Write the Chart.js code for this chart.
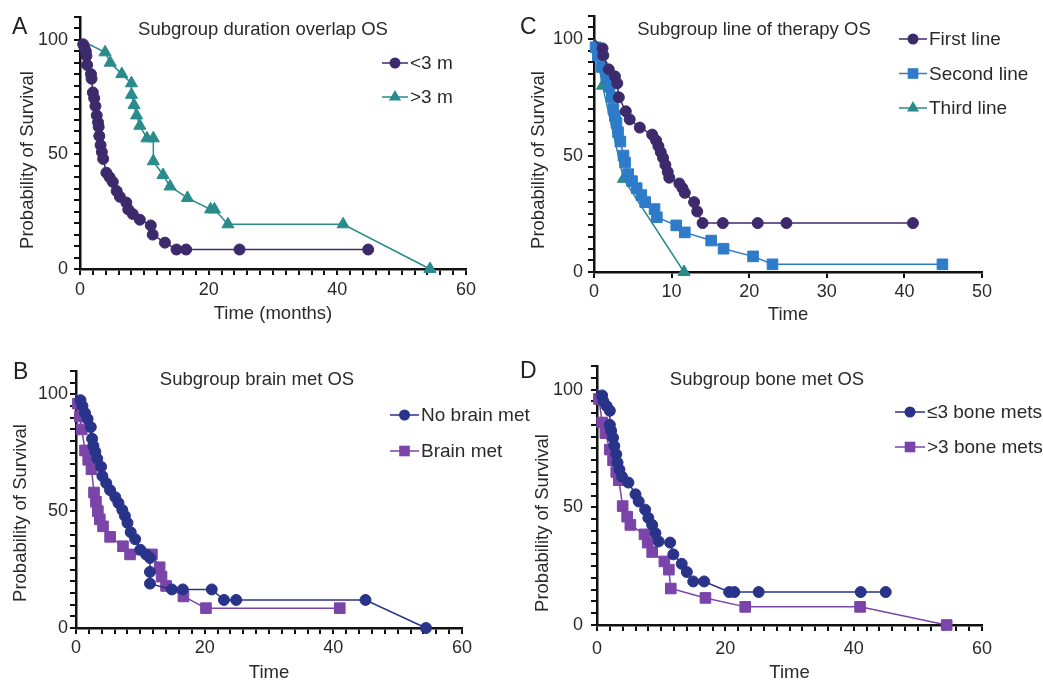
<!DOCTYPE html>
<html>
<head>
<meta charset="utf-8">
<script src="https://cdn.jsdelivr.net/npm/chart.js@4.4.1/dist/chart.umd.min.js"></script>
<style>
  body { margin: 0; background: #fff; }
  #wrap { position: relative; width: 1043px; height: 684px; }
  canvas { position: absolute; }
</style>
</head>
<body>
<div id="wrap">
  <canvas id="chartA" width="520" height="330" style="left:0;top:0"></canvas>
  <canvas id="chartC" width="523" height="330" style="left:520px;top:0"></canvas>
  <canvas id="chartB" width="545" height="344" style="left:0;top:340px"></canvas>
  <canvas id="chartD" width="523" height="344" style="left:520px;top:340px"></canvas>
</div>
<script>
// Panel A - duration overlap
const shortTime = [0, 0.5, 0.7, 0.9, 1.0, 1.1, 1.7, 1.8, 2.0, 2.2, 2.4, 2.6, 2.8, 2.9, 3.0, 3.2, 3.4, 3.6, 4.1, 4.6, 5.1, 5.7, 6.2, 7.2, 7.5, 8.2, 9.3, 11.0, 11.3, 13.2, 15.0, 16.5, 24.8, 44.8];
const shortSurv = [100, 98, 96.5, 95, 93, 89, 85, 83, 77, 74.5, 71, 67, 64, 62, 58, 54, 51, 48, 42, 40, 38, 34, 31.5, 29, 26, 24, 21.5, 19, 15, 11.5, 8.5, 8.5, 8.5, 8.5];
const longTime = [0, 3.9, 4.7, 6.5, 8.0, 8.0, 8.4, 8.8, 9.3, 10.4, 11.4, 11.4, 12.9, 14.0, 16.7, 20.3, 20.9, 23.0, 40.9, 54.4];
const longSurv = [100, 94.5, 90, 85, 81, 76, 71.5, 67, 62.5, 57, 57, 47, 41, 36, 31, 26, 26, 19.5, 19.5, 0];

// Panel C - line of therapy
const firstTime = [0, 1.1, 1.2, 1.9, 2.7, 3.0, 3.2, 4.1, 4.6, 5.9, 7.5, 8.0, 8.3, 8.6, 8.9, 9.2, 9.5, 9.7, 11.0, 11.4, 11.7, 12.9, 13.3, 14.0, 16.6, 21.1, 24.8, 41.1];
const firstSurv = [100, 96, 93, 87, 84, 81, 75, 69, 65.5, 62, 59, 56.5, 54, 51.5, 49, 46, 43, 40.5, 38, 36, 34, 30, 26, 21, 21, 21, 21, 21];
const secondTime = [0, 0.2, 0.5, 1.0, 1.6, 2.0, 2.3, 2.5, 2.7, 2.9, 3.1, 3.4, 3.8, 4.0, 4.4, 4.9, 5.5, 6.1, 6.6, 7.8, 8.1, 10.6, 11.7, 15.1, 16.7, 20.5, 23.0, 44.9];
const secondSurv = [100, 96.5, 93, 88, 84, 79.5, 75, 70, 67, 64, 60, 56, 50, 47, 42, 39, 36, 33, 30, 27, 23.5, 20, 17, 13.5, 10, 6.7, 3.3, 3.3];
const thirdTime = [0, 1.1, 3.8, 11.6];
const thirdSurv = [100, 80, 40, 0];

// Panel B - brain mets
const noBrainTime = [0, 0.7, 1.0, 1.4, 1.8, 2.3, 2.5, 2.7, 3.0, 3.3, 3.9, 4.1, 4.7, 5.3, 6.1, 6.6, 7.2, 7.6, 8.0, 8.5, 9.2, 10.0, 10.9, 11.5, 11.5, 11.5, 14.9, 16.6, 21.1, 23.0, 24.9, 45.0, 54.4];
const noBrainSurv = [100, 97.5, 95, 92, 89.5, 86, 81, 78, 75.5, 72.5, 69, 65, 62, 59, 56, 53.5, 50.5, 48, 45, 41, 38, 33.5, 31.5, 30, 24, 19, 16.5, 16.5, 16.5, 12, 12, 12, 0];
const brainTime = [0, 0.3, 0.6, 0.9, 1.4, 1.9, 2.4, 2.8, 3.1, 3.4, 3.7, 4.2, 5.3, 7.3, 8.4, 11.8, 13.0, 13.3, 14.0, 16.7, 20.2, 41.0];
const brainSurv = [100, 96, 90.5, 85, 76, 72, 68, 58, 54, 50, 46.5, 43.5, 39, 35, 31.5, 31.5, 26, 22, 18, 13.5, 8.5, 8.5];

// Panel D - bone mets
const fewBoneTime = [0, 0.8, 1.0, 1.5, 2.0, 2.0, 2.2, 2.5, 2.7, 3.0, 3.2, 3.5, 3.9, 4.9, 6.0, 6.5, 7.5, 8.0, 8.6, 9.1, 9.6, 11.4, 11.9, 13.2, 14.0, 15.0, 16.7, 20.6, 21.4, 25.2, 41.1, 45.0];
const fewBoneSurv = [100, 97.5, 95, 93, 91, 85, 82.5, 79.5, 76, 72.5, 69, 66, 63, 60.5, 55.5, 52.5, 49, 45.5, 42.5, 39, 35.5, 35, 30, 26, 22.5, 18.5, 18.5, 14, 14, 14, 14, 14];
const manyBoneTime = [0, 0.3, 0.8, 1.3, 2.0, 2.5, 3.0, 3.4, 4.0, 4.7, 5.2, 7.4, 7.9, 8.6, 10.5, 11.2, 11.5, 16.9, 23.1, 41.0, 54.5];
const manyBoneSurv = [100, 96, 86, 81.5, 74.5, 70, 65, 61.5, 50.5, 46, 42.5, 38.5, 35, 31, 27, 23.5, 15.5, 11.5, 7.7, 7.7, 0];

const FONT = "'Liberation Sans', Arial, sans-serif";
const INK = '#2a2a2a';
const PURPLE_DARK = '#3c2a6c';
const TEAL = '#2a8b8d';
const BLUE = '#2e7bc9';
const NAVY = '#283389';
const VIOLET = '#7a44a8';

function series(label, xs, ys, color, style, radius) {
  return {
    label: label,
    data: xs.map((x, i) => ({ x: x, y: ys[i] })),
    borderColor: color,
    backgroundColor: color,
    borderWidth: 1.5,
    tension: 0,
    pointStyle: style,
    pointRadius: xs.map((x, i) => (i === 0 ? 0 : radius)),
    pointHoverRadius: 0,
    pointBorderWidth: 1,
    pointBackgroundColor: color,
    pointBorderColor: color,
    clip: 14,
    markerSize: radius
  };
}

function drawMark(ctx, style, x, y, r, color) {
  ctx.fillStyle = color;
  ctx.beginPath();
  if (style === 'circle') {
    ctx.arc(x, y, r, 0, Math.PI * 2);
  } else if (style === 'rect') {
    const s = r * Math.SQRT1_2;
    ctx.rect(x - s, y - s, 2 * s, 2 * s);
  } else {
    ctx.moveTo(x, y - r);
    ctx.lineTo(x + r * 0.866, y + r * 0.5);
    ctx.lineTo(x - r * 0.866, y + r * 0.5);
    ctx.closePath();
  }
  ctx.fill();
}

// letter, heading, y title and legend drawn at fixed spots like the figure
const decor = {
  id: 'decor',
  afterDraw(chart, args, o) {
    const ctx = chart.ctx;
    ctx.save();
    ctx.fillStyle = '#222';
    ctx.font = '23px ' + FONT;
    ctx.textAlign = 'left';
    ctx.textBaseline = 'alphabetic';
    ctx.fillText(o.letter, o.letterX, o.letterY);

    ctx.fillStyle = INK;
    ctx.font = '18.5px ' + FONT;
    ctx.textAlign = 'center';
    ctx.textBaseline = 'middle';
    ctx.fillText(o.heading, o.headX, o.headY);

    ctx.save();
    ctx.translate(o.yTitleX, o.yTitleY);
    ctx.rotate(-Math.PI / 2);
    ctx.fillText('Probability of Survival', 0, 0);
    ctx.restore();

    ctx.font = o.legendFont + 'px ' + FONT;
    ctx.textAlign = 'left';
    chart.data.datasets.forEach((ds, i) => {
      const y = o.legendY + i * o.legendGap;
      ctx.strokeStyle = ds.borderColor;
      ctx.lineWidth = 1.5;
      ctx.beginPath();
      ctx.moveTo(o.legendX, y);
      ctx.lineTo(o.legendX + o.lineLen, y);
      ctx.stroke();
      drawMark(ctx, ds.pointStyle, o.legendX + o.lineLen / 2, y, ds.markerSize, ds.borderColor);
      ctx.fillStyle = INK;
      ctx.fillText(ds.label, o.legendX + o.lineLen + 2, y + 1);
    });
    ctx.restore();
  }
};

function makeChart(id, datasets, p) {
  return new Chart(document.getElementById(id), {
    type: 'line',
    data: { datasets: datasets },
    options: {
      responsive: false,
      animation: false,
      events: [],
      layout: { padding: { top: p.top, right: p.right, left: 0, bottom: 0 } },
      scales: {
        x: {
          type: 'linear',
          min: 0,
          max: p.xMax,
          afterFit: s => { s.height = p.xHeight; },
          border: { color: '#111', width: 2.5 },
          grid: { drawOnChartArea: false, drawTicks: true, tickLength: 6, lineWidth: 2, color: '#111' },
          ticks: {
            stepSize: p.xStep,
            autoSkip: false,
            maxRotation: 0,
            padding: p.xTickPad,
            color: INK,
            font: { family: FONT, size: 18 },
            callback: v => (v % p.xLabelEvery === 0 ? v : '')
          },
          title: {
            display: true,
            text: p.xTitle,
            color: INK,
            font: { family: FONT, size: 18.5, lineHeight: 1.2 },
            padding: { top: 0, bottom: p.xTitlePad }
          }
        },
        y: {
          type: 'linear',
          min: 0,
          max: 110,
          afterFit: s => { s.width = p.yWidth; },
          border: { color: '#111', width: 2.5 },
          grid: { drawOnChartArea: false, drawTicks: true, tickLength: 6, lineWidth: 2, color: '#111' },
          ticks: {
            stepSize: 5,
            autoSkip: false,
            padding: p.yTickPad,
            color: INK,
            font: { family: FONT, size: 18 },
            callback: v => (v % 50 === 0 ? v : '')
          }
        }
      },
      plugins: {
        legend: { display: false },
        tooltip: { enabled: false },
        decor: p.decor
      }
    },
    plugins: [decor]
  });
}

makeChart('chartA', [
  series('<3 m', shortTime, shortSurv, PURPLE_DARK, 'circle', 5.5),
  series('>3 m', longTime, longSurv, TEAL, 'triangle', 7)
], {
  top: 12, right: 54, xHeight: 61, yWidth: 80,
  xMax: 60, xStep: 2, xLabelEvery: 20, xTitle: 'Time (months)',
  xTickPad: 4, xTitlePad: 5, yTickPad: 6,
  decor: { letter: 'A', letterX: 12, letterY: 34, heading: 'Subgroup duration overlap OS', headX: 263, headY: 30,
           yTitleX: 28, yTitleY: 160,
           legendX: 382, legendY: 63, legendGap: 34, lineLen: 26, legendFont: 19 }
});

makeChart('chartC', [
  series('First line', firstTime, firstSurv, PURPLE_DARK, 'circle', 5.5),
  series('Second line', secondTime, secondSurv, BLUE, 'rect', 7.5),
  series('Third line', thirdTime, thirdSurv, TEAL, 'triangle', 7)
], {
  top: 11, right: 61, xHeight: 58, yWidth: 74,
  xMax: 50, xStep: 10, xLabelEvery: 10, xTitle: 'Time',
  xTickPad: 3, xTitlePad: 4, yTickPad: 5,
  decor: { letter: 'C', letterX: 0, letterY: 34, heading: 'Subgroup line of therapy OS', headX: 234, headY: 30,
           yTitleX: 19, yTitleY: 160,
           legendX: 379, legendY: 39, legendGap: 34.5, lineLen: 28, legendFont: 19 }
});

makeChart('chartB', [
  series('No brain met', noBrainTime, noBrainSurv, NAVY, 'circle', 5.5),
  series('Brain met', brainTime, brainSurv, VIOLET, 'rect', 7.5)
], {
  top: 31, right: 83, xHeight: 56, yWidth: 76,
  xMax: 60, xStep: 2, xLabelEvery: 20, xTitle: 'Time',
  xTickPad: 3, xTitlePad: 0, yTickPad: 2,
  decor: { letter: 'B', letterX: 13, letterY: 39, heading: 'Subgroup brain met OS', headX: 257, headY: 40,
           yTitleX: 21, yTitleY: 173,
           legendX: 390, legendY: 75, legendGap: 36, lineLen: 29, legendFont: 19 }
});

makeChart('chartD', [
  series('\u22643 bone mets', fewBoneTime, fewBoneSurv, NAVY, 'circle', 5.5),
  series('>3 bone mets', manyBoneTime, manyBoneSurv, VIOLET, 'rect', 7.5)
], {
  top: 26, right: 61, xHeight: 59, yWidth: 77,
  xMax: 60, xStep: 2, xLabelEvery: 20, xTitle: 'Time',
  xTickPad: 7, xTitlePad: 0, yTickPad: 8,
  decor: { letter: 'D', letterX: 0, letterY: 38, heading: 'Subgroup bone met OS', headX: 247, headY: 40,
           yTitleX: 23, yTitleY: 183,
           legendX: 375, legendY: 72, legendGap: 35, lineLen: 30, legendFont: 19 }
});
</script>
</body>
</html>
